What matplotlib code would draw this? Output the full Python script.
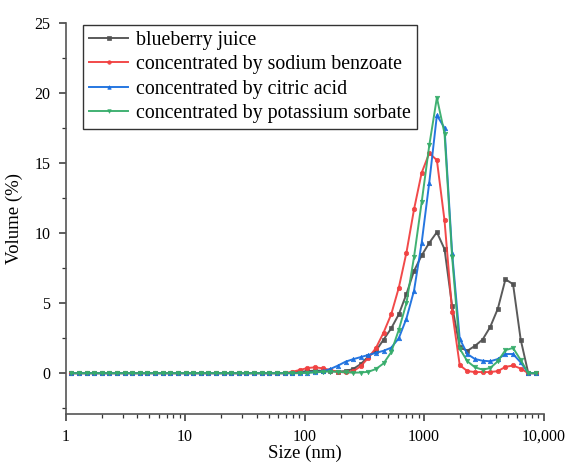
import matplotlib
matplotlib.use("Agg")
import matplotlib.pyplot as plt
from matplotlib.ticker import FixedLocator, FixedFormatter, MultipleLocator, LogLocator, NullFormatter

plt.rcParams['font.family'] = ['Liberation Serif', 'DejaVu Serif']

# Size bins (nm)
sizes = [1.117, 1.294, 1.499, 1.736, 2.010, 2.328, 2.696, 3.122, 3.615, 4.187,
         4.849, 5.615, 6.503, 7.531, 8.721, 10.10, 11.70, 13.54, 15.69, 18.17,
         21.04, 24.36, 28.21, 32.67, 37.84, 43.82, 50.75, 58.77, 68.06,
         78.82, 91.28, 105.7, 122.4, 141.8, 164.2, 190.1, 220.2, 255.0, 295.3,
         342.0, 396.1, 458.7, 531.2, 615.1, 712.4, 825.0, 955.4, 1106, 1281,
         1484, 1718, 1990, 2305, 2669, 3091, 3580, 4145, 4801, 5560,
         6439, 7456, 8635]

low_zeros = [0, 0, 0, 0, 0, 0, 0, 0, 0, 0, 0, 0, 0, 0, 0,
             0, 0, 0, 0, 0, 0, 0, 0, 0, 0, 0, 0, 0, 0]

blueberry = low_zeros + [0.05, 0.1, 0.15, 0.18, 0.18, 0.15, 0.12, 0.15, 0.3, 0.65,
                         1.2, 1.6, 2.4, 3.2, 4.2, 5.65, 7.3, 8.4, 9.3, 10.06,
                         8.85, 4.8, 1.85, 1.6, 1.95, 2.4, 3.3, 4.6, 6.7, 6.35,
                         2.4, 0, 0]
sodium_benzoate = low_zeros + [0.1, 0.23, 0.37, 0.42, 0.35, 0.23, 0.1, 0.06, 0.13, 0.5,
                               1.1, 1.8, 2.9, 4.2, 6.1, 8.6, 11.7, 14.3, 15.7, 15.2,
                               10.9, 4.4, 0.57, 0.15, 0.08, 0.08, 0.08, 0.15, 0.45, 0.55,
                               0.33, 0, 0]
citric_acid = low_zeros + [0, 0.02, 0.05, 0.08, 0.13, 0.3, 0.54, 0.82, 1.0, 1.15,
                           1.3, 1.45, 1.6, 1.82, 2.5, 3.9, 5.9, 9.3, 13.6, 18.4,
                           17.5, 8.6, 2.45, 1.37, 1.01, 0.89, 0.85, 1.01, 1.37, 1.37,
                           0.77, 0, 0]
potassium_sorbate = low_zeros + [0, 0, 0.03, 0.06, 0.1, 0.12, 0.1, 0.06, 0.04, 0.05,
                                 0.1, 0.3, 0.7, 1.5, 3.1, 5.0, 8.3, 12.2, 16.25, 19.66,
                                 17.1, 8.3, 1.75, 0.85, 0.42, 0.25, 0.37, 0.85, 1.65, 1.8,
                                 0.94, 0, 0]

labels = ["blueberry juice", "concentrated by sodium benzoate",
          "concentrated by citric acid", "concentrated by potassium sorbate"]
xtick_vals = [1, 10, 100, 1000, 10000]
xtick_labels = ["1", "10", "100", "1000", "10,000"]

series = [blueberry, sodium_benzoate, citric_acid, potassium_sorbate]
colors = ["#515151", "#F14040", "#1A6FDF", "#37AD6B"]
markers = ["s", "o", "^", "v"]

fig = plt.figure(figsize=(5.65, 4.65), dpi=100)
ax = fig.add_axes([0.116, 0.110, 0.846, 0.841])

for ys, c, m, lab in zip(series, colors, markers, labels):
    ax.plot(sizes, ys, color=c, marker=m, markersize=3.2, linewidth=1.4,
            markeredgewidth=0.5, label=lab, alpha=0.95)

ax.set_xscale('log')
ax.set_xlim(1, 10000)
ax.set_ylim(-2.9, 25)

ax.xaxis.set_major_locator(FixedLocator(xtick_vals))
ax.xaxis.set_major_formatter(FixedFormatter(xtick_labels))
ax.xaxis.set_minor_locator(LogLocator(base=10, subs=[2, 3, 4, 5, 6, 7, 8, 9]))
ax.xaxis.set_minor_formatter(NullFormatter())
ax.yaxis.set_major_locator(MultipleLocator(5))
ax.yaxis.set_minor_locator(MultipleLocator(2.5))

for s in ['top', 'right']:
    ax.spines[s].set_visible(False)
for s in ['left', 'bottom']:
    ax.spines[s].set_color('#555555')
    ax.spines[s].set_linewidth(1.2)

ax.tick_params(which='major', direction='out', length=5, width=1.1, color='#333333',
               labelsize=11.5, pad=6)
ax.tick_params(which='minor', direction='out', length=3, width=0.9, color='#333333')

ax.set_xlabel("Size (nm)", fontsize=13.5, labelpad=0)
ax.set_ylabel("Volume (%)", fontsize=13.5, labelpad=8)

leg = ax.legend(loc='upper left', bbox_to_anchor=(0.036, 0.995), borderaxespad=0,
                fontsize=14.3, frameon=True, fancybox=False, edgecolor='black',
                handlelength=2.0, handletextpad=0.4, labelspacing=0.28,
                borderpad=0.3, markerscale=0.8)
leg.get_frame().set_linewidth(1.0)

fig.savefig("out.png", dpi=100)
